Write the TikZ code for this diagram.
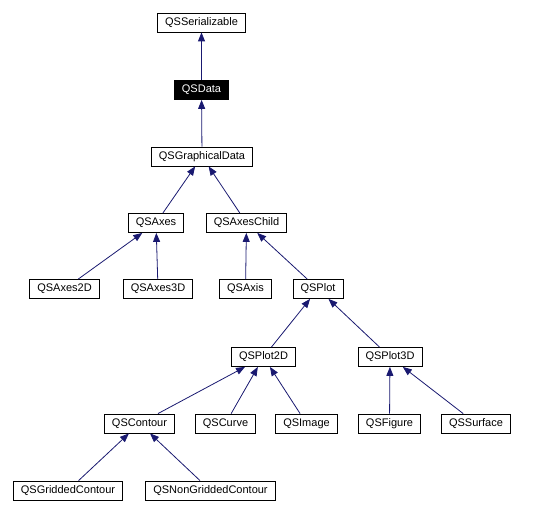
\documentclass[tikz,border=0pt]{standalone}
\usepackage{fontspec}
\setmainfont{Liberation Sans}
\usepackage{xcolor}
\usetikzlibrary{arrows.meta,positioning}
\definecolor{edgeblue}{RGB}{25,25,112}

\begin{document}
\begin{tikzpicture}[
    x=1pt, y=-1pt,
    cls/.style={rectangle, draw=black, fill=white, line width=0.8pt, inner xsep=7.5pt, inner ysep=0pt, minimum height=19pt, font=\fontsize{11}{13}\selectfont},
    current/.style={cls, fill=black, text=white},
    inherit/.style={draw=edgeblue, line width=0.8pt, -{Triangle[length=9pt,width=7pt]}}
]
    \useasboundingbox (0,0) rectangle (538,513);

    \node[cls] (serial) at (201.5,22.5) {QSSerializable};
    \node[current] (data) at (201.5,90) {QSData};
    \node[cls] (graph) at (202,156.5) {QSGraphicalData};
    \node[cls] (axes) at (156,223) {QSAxes};
    \node[cls] (axeschild) at (246.5,223) {QSAxesChild};
    \node[cls] (axes2d) at (64.5,289) {QSAxes2D};
    \node[cls] (axes3d) at (158,289) {QSAxes3D};
    \node[cls] (axis) at (245.5,289) {QSAxis};
    \node[cls] (plot) at (318,289) {QSPlot};
    \node[cls] (plot2d) at (263.5,357) {QSPlot2D};
    \node[cls] (plot3d) at (390,357) {QSPlot3D};
    \node[cls] (contour) at (139.5,423.5) {QSContour};
    \node[cls] (curve) at (225.5,423.5) {QSCurve};
    \node[cls] (image) at (306.5,423.5) {QSImage};
    \node[cls] (figure) at (389.5,423.5) {QSFigure};
    \node[cls] (surface) at (476,423.5) {QSSurface};
    \node[cls] (gridded) at (68,490.5) {QSGriddedContour};
    \node[cls] (nongridded) at (210.5,490.5) {QSNonGriddedContour};

    \draw[inherit] (data) -- (serial);
    \draw[inherit] (graph) -- (data);
    \draw[inherit] (axes) -- (graph);
    \draw[inherit] (axeschild) -- (graph);
    \draw[inherit] (axes2d) -- (axes);
    \draw[inherit] (axes3d) -- (axes);
    \draw[inherit] (axis) -- (axeschild);
    \draw[inherit] (plot) -- (axeschild);
    \draw[inherit] (plot2d) -- (plot);
    \draw[inherit] (plot3d) -- (plot);
    \draw[inherit] (contour) -- (plot2d);
    \draw[inherit] (curve) -- (plot2d);
    \draw[inherit] (image) -- (plot2d);
    \draw[inherit] (figure) -- (plot3d);
    \draw[inherit] (surface) -- (plot3d);
    \draw[inherit] (gridded) -- (contour);
    \draw[inherit] (nongridded) -- (contour);
\end{tikzpicture}
\end{document}
